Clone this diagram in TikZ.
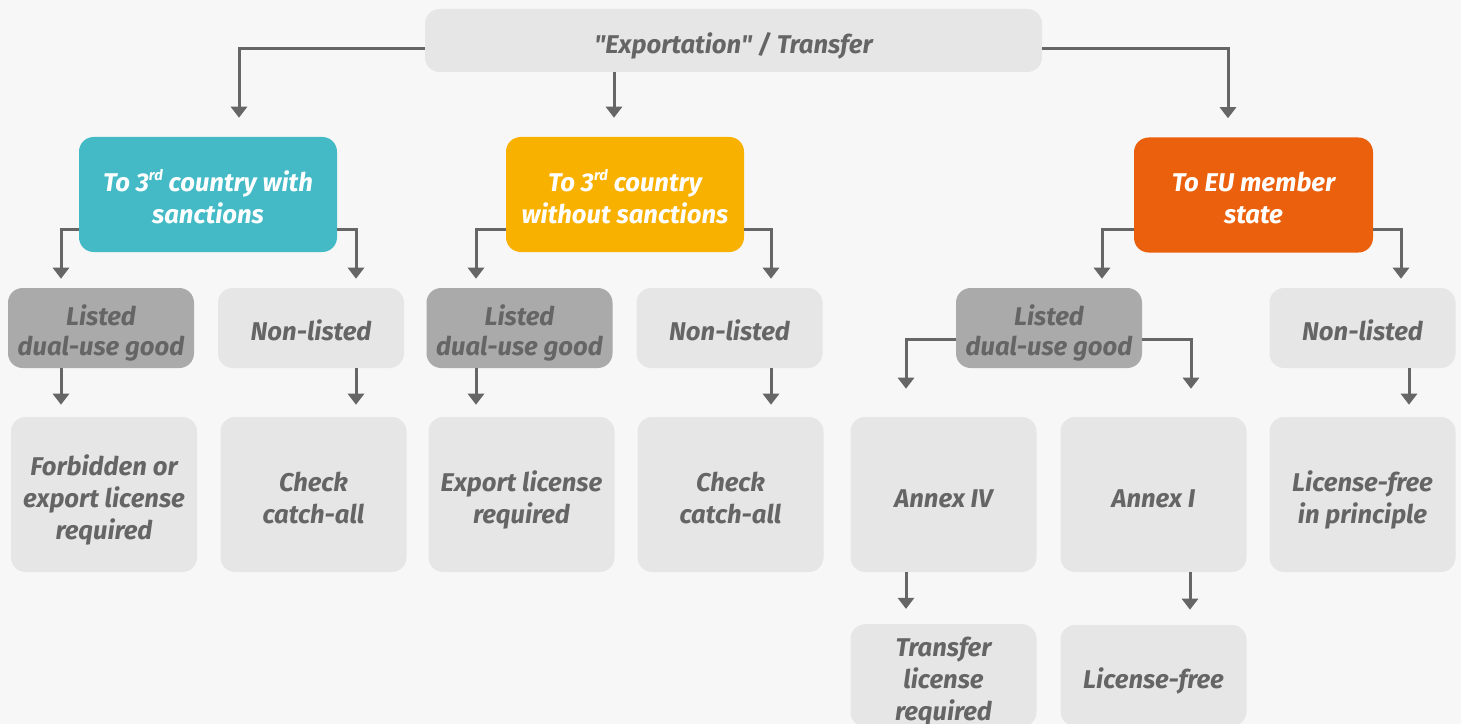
\documentclass[tikz,border=0pt]{standalone}
\usepackage{fontspec}
\setmainfont{Fira Sans}[Ligatures=TeXOff]
\usetikzlibrary{calc,arrows.meta}
\definecolor{bgc}{HTML}{F7F7F7}
\definecolor{boxlight}{HTML}{E6E6E6}
\definecolor{boxdark}{HTML}{ABAAAA}
\definecolor{txtc}{HTML}{656565}
\definecolor{linec}{HTML}{666666}
\definecolor{tealc}{HTML}{43BAC6}
\definecolor{yellowc}{HTML}{F9B100}
\definecolor{orangec}{HTML}{EB600C}
\newcommand{\rdsup}{\raisebox{0.42em}{\fontsize{11}{11}\selectfont rd}}
\begin{document}
\begin{tikzpicture}[x=0.75pt,y=-0.75pt,
  box/.style={rounded corners=11pt, inner sep=0pt, align=center,
    font=\fontsize{19.25}{24}\selectfont\bfseries\itshape,
    execute at begin node={\rule{0pt}{24pt}},
    execute at end node={\rule[-5pt]{0pt}{5pt}}},
  toph/.style={execute at begin node={\rule{0pt}{#1}}},
  light/.style={box, fill=boxlight, text=txtc},
  dark/.style={box, fill=boxdark, text=txtc, toph=46.5pt,
    font=\fontsize{19.25}{22.5}\selectfont\bfseries\itshape},
  colored/.style={box, fill=#1, text=white, minimum height=86.25pt, toph=48pt},
  lvlthree/.style={minimum width=139.5pt, minimum height=60pt},
  lvlfour/.style={light, minimum width=139.5pt, minimum height=116.25pt},
  lvlfive/.style={light, minimum width=139.5pt, minimum height=75.75pt},
  arr/.style={draw=linec, line width=2.25pt, -{Triangle[width=12pt,length=8.25pt]}}]
\useasboundingbox (0,0) rectangle (1461,724);
\fill[bgc] (0,0) rectangle (1461,724);

% top
\node[light, minimum width=462.75pt, minimum height=47.25pt] (top) at (733.5,40.5) {"Exportation" / Transfer};

% level 2
\node[colored=tealc, minimum width=193.5pt] (teal) at (208,194.5) {To 3\rdsup{} country with\\sanctions};
\node[colored=yellowc, minimum width=178.5pt] (yellow) at (625,194.5) {To 3\rdsup{} country\\without sanctions};
\node[colored=orangec, minimum width=179.25pt] (orange) at (1253.5,195) {To EU member\\state};

% level 3
\node[dark, lvlthree] (l1) at (101,328) {Listed\\dual-use good};
\node[light, lvlthree] (n1) at (311,328) {Non-listed};
\node[dark, lvlthree] (l2) at (519.5,328) {Listed\\dual-use good};
\node[light, lvlthree] (n2) at (729.5,328) {Non-listed};
\node[dark, lvlthree] (l3) at (1049,328) {Listed\\dual-use good};
\node[light, lvlthree] (n3) at (1362.5,328) {Non-listed};

% level 4
\node[lvlfour, toph=72pt] (f) at (104,494.5) {Forbidden or\\export license\\required};
\node[lvlfour, toph=48pt] (c1) at (313.5,494.5) {Check\\catch-all};
\node[lvlfour, toph=48pt] (e) at (521.5,494.5) {Export license\\required};
\node[lvlfour, toph=48pt] (c2) at (730.5,494.5) {Check\\catch-all};
\node[lvlfour] (a4) at (943.5,494.5) {Annex IV};
\node[lvlfour] (a1) at (1153.5,494.5) {Annex I};
\node[lvlfour, toph=48pt] (lf) at (1362.5,494.5) {License-free\\in principle};

% level 5
\node[lvlfive, toph=72pt] (tr) at (943.5,675.5) {Transfer\\license\\required};
\node[lvlfive] (fr) at (1153.5,675.5) {License-free};

% connectors top -> level 2
\draw[arr, shorten >=14.25pt] ($(top.west)+(0,8.5)$) -| ($(teal.north)+(31,0)$);
\draw[arr, shorten >=14.25pt] ($(top.south)+(-119.5,0)$) -- ($(yellow.north)+(-11,0)$);
\draw[arr, shorten >=14.25pt] ($(top.east)+(0,8.5)$) -| ($(orange.north)+(-25.5,0)$);

% level 2 -> level 3
\draw[arr, shorten >=6.75pt] ($(teal.west)+(0,34.5)$) -| ($(l1.north)+(-40,0)$);
\draw[arr, shorten >=6.75pt] ($(teal.east)+(0,34.5)$) -| ($(n1.north)+(45,0)$);
\draw[arr, shorten >=6.75pt] ($(yellow.west)+(0,34.5)$) -| ($(l2.north)+(-43.5,0)$);
\draw[arr, shorten >=6.75pt] ($(yellow.east)+(0,34.5)$) -| ($(n2.north)+(41.5,0)$);
\draw[arr, shorten >=6.75pt] ($(orange.west)+(0,34)$) -| ($(l3.north)+(53,0)$);
\draw[arr, shorten >=6.75pt] ($(orange.east)+(0,34)$) -| ($(n3.north)+(38.5,0)$);

% level 3 -> level 4
\draw[arr, shorten >=9pt] ($(l1.south)+(-40,0)$) -- ($(f.north)+(-43,0)$);
\draw[arr, shorten >=9pt] ($(n1.south)+(45,0)$) -- ($(c1.north)+(42.5,0)$);
\draw[arr, shorten >=9pt] ($(l2.south)+(-43.5,0)$) -- ($(e.north)+(-45.5,0)$);
\draw[arr, shorten >=9pt] ($(n2.south)+(41.5,0)$) -- ($(c2.north)+(40.5,0)$);
\draw[arr, shorten >=21pt] ($(l3.west)+(0,11)$) -| ($(a4.north)+(-37.5,0)$);
\draw[arr, shorten >=21pt] ($(l3.east)+(0,11)$) -| ($(a1.north)+(37.5,0)$);
\draw[arr, shorten >=9pt] ($(n3.south)+(46.5,0)$) -- ($(lf.north)+(46.5,0)$);

% level 4 -> level 5
\draw[arr, shorten >=11.25pt] ($(a4.south)+(-37.5,0)$) -- ($(tr.north)+(-37.5,0)$);
\draw[arr, shorten >=11.25pt] ($(a1.south)+(36.5,0)$) -- ($(fr.north)+(36.5,0)$);
\end{tikzpicture}
\end{document}
